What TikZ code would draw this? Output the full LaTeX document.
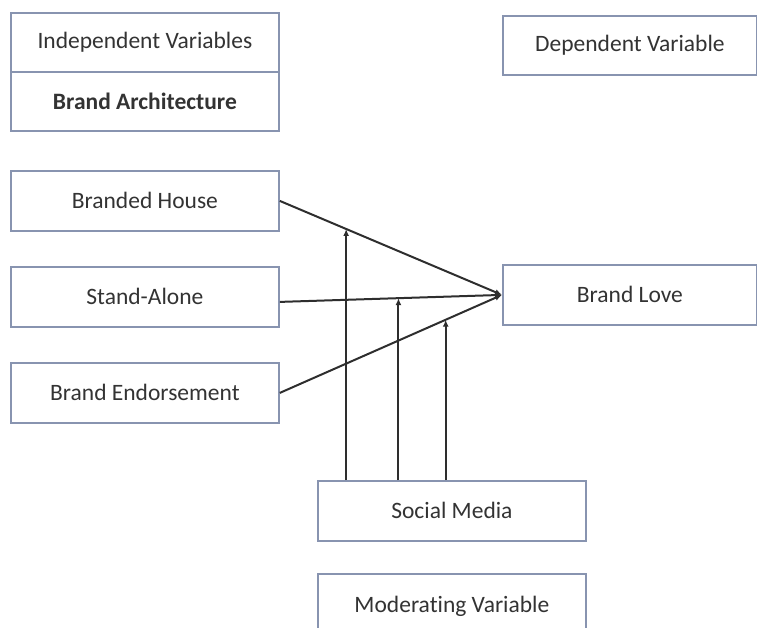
\documentclass[tikz,border=0pt]{standalone}
\usepackage{fontspec}
\setmainfont[Ligatures=NoCommon]{Carlito}
\usetikzlibrary{calc,arrows.meta}
\definecolor{boxc}{HTML}{8894B0}
\definecolor{txtc}{HTML}{333333}
\definecolor{linec}{HTML}{2E2E2E}
\tikzset{
  box/.style={draw=boxc, line width=1.8pt, fill=white, inner sep=0pt, font=\fontsize{23.5}{26}\selectfont, text=txtc},
  conn/.style={draw=linec, line width=2pt, -{Latex[length=7pt,width=6pt]}},
}
\begin{document}
\begin{tikzpicture}[x=1pt,y=-1pt]
\useasboundingbox (0,0) rectangle (757,627);
% Independent variables box
\node[box, minimum width=268pt, minimum height=59pt, anchor=north west] (iv) at (10,12) {Independent Variables};
\node[box, minimum width=268pt, minimum height=59pt, anchor=north west, font=\fontsize{23.5}{26}\selectfont\bfseries] (ba) at (10,71) {Brand Architecture};
% Dependent
\node[box, minimum width=254pt, minimum height=59pt, anchor=north west] (dv) at (502,15) {Dependent Variable};
% Independent variables
\node[box, minimum width=268pt, minimum height=60pt, anchor=north west] (bh) at (10,170) {Branded House};
\node[box, minimum width=268pt, minimum height=60pt, anchor=north west] (sa) at (10,266) {Stand-Alone};
\node[box, minimum width=268pt, minimum height=60pt, anchor=north west] (be) at (10,362) {Brand Endorsement};
% Brand love
\node[box, minimum width=254pt, minimum height=60pt, anchor=north west] (bl) at (502,264) {Brand Love};
% Social media
\node[box, minimum width=268pt, minimum height=60pt, anchor=north west] (sm) at (317,480) {Social Media};
\node[box, minimum width=268pt, minimum height=64pt, anchor=north west] (mv) at (317,573) {Moderating Variable};
% main connectors
\coordinate (sastart) at ($(sa.east)+(0,5)$);
\draw[conn] (bh.east) -- (bl.west);
\draw[conn] (sastart) -- (bl.west);
\draw[conn] (be.east) -- (bl.west);
% moderating arrows
\coordinate (p1) at ($(bh.east)!0.2986!(bl.west)$);
\coordinate (p2) at ($(sastart)!0.534!(bl.west)$);
\coordinate (p3) at ($(be.east)!0.7466!(bl.west)$);
\draw[conn] (p1 |- sm.north) -- (p1);
\draw[conn] (p2 |- sm.north) -- (p2);
\draw[conn] (p3 |- sm.north) -- (p3);
\end{tikzpicture}
\end{document}
